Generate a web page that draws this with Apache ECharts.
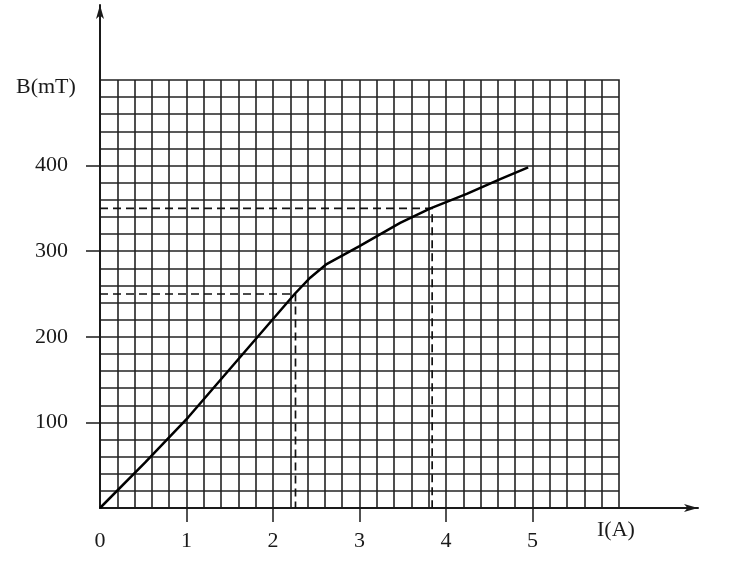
<!DOCTYPE html>
<html>
<head>
<meta charset="utf-8">
<script src="https://cdn.jsdelivr.net/npm/echarts@6/dist/echarts.min.js"></script>
<style>html,body{margin:0;padding:0;background:#fff;}#c{width:750px;height:569px;}</style>
</head>
<body>
<div id="c"></div>
<script>
// Data
var currentA = [0, 0.52, 1.02, 2.25, 2.43, 2.62, 3.0, 3.47, 3.82, 4.24, 4.62, 4.95];
var fieldMT  = [0, 53, 106, 250, 269, 285, 306, 333, 350, 367, 384, 398];
var guide1 = [[0, 250], [2.26, 250], [2.26, 0]];
var guide2 = [[0, 350], [3.84, 350], [3.84, 0]];
var xTickLabels = [0, 1, 2, 3, 4, 5];
var xTicks = [1, 2, 3, 4, 5];
var yTickLabels = [100, 200, 300, 400];
var yName = 'B(mT)';
var xName = 'I(A)';

var curve = currentA.map(function (x, i) { return [x, fieldMT[i]]; });
var font = '"Liberation Serif", "DejaVu Serif", serif';
var ink = '#1a1a1a';
var paper = {color: '#222', width: 1.6};

var chart = echarts.init(document.getElementById('c'), null, {renderer: 'canvas'});
chart.setOption({
  animation: false,
  backgroundColor: '#fff',
  grid: [
    {left: 100, right: 131, top: 80, bottom: 61, show: true, borderColor: '#222', borderWidth: 1.6, containLabel: false},
    {left: 100, right: 52, top: 5, bottom: 61, show: false, containLabel: false}
  ],
  xAxis: [
    {
      type: 'value', gridIndex: 0, min: 0, max: 6, interval: 1,
      axisLine: {show: true, lineStyle: {color: ink, width: 2}},
      axisTick: {show: true, length: 14, customValues: xTicks, lineStyle: {color: ink, width: 1.5}},
      axisLabel: {show: true, customValues: xTickLabels, margin: 22, color: ink, fontFamily: font, fontSize: 22},
      splitLine: {show: true, lineStyle: paper},
      minorTick: {show: false, splitNumber: 5},
      minorSplitLine: {show: true, lineStyle: paper}
    },
    {
      type: 'value', gridIndex: 1, min: 0, max: 1,
      axisLine: {show: true, symbol: ['none', 'arrow'], symbolSize: [6, 14], lineStyle: {color: ink, width: 2}},
      axisTick: {show: false}, axisLabel: {show: false}, splitLine: {show: false}
    }
  ],
  yAxis: [
    {
      type: 'value', gridIndex: 0, min: 0, max: 500, interval: 100,
      axisLine: {show: true, lineStyle: {color: ink, width: 2}},
      axisTick: {show: true, length: 14, customValues: yTickLabels, lineStyle: {color: ink, width: 1.5}},
      axisLabel: {show: true, customValues: yTickLabels, margin: 32, color: ink, fontFamily: font, fontSize: 22},
      splitLine: {show: true, lineStyle: paper},
      minorTick: {show: false, splitNumber: 5},
      minorSplitLine: {show: true, lineStyle: paper}
    },
    {
      type: 'value', gridIndex: 1, min: 0, max: 1,
      axisLine: {show: true, symbol: ['none', 'arrow'], symbolSize: [6, 14], lineStyle: {color: ink, width: 2}},
      axisTick: {show: false}, axisLabel: {show: false}, splitLine: {show: false}
    }
  ],
  graphic: [
    {type: 'text', left: 16, top: 76, style: {text: yName, fontFamily: font, fontSize: 22, fill: ink}},
    {type: 'text', left: 597, top: 519, style: {text: xName, fontFamily: font, fontSize: 22, fill: ink}}
  ],
  series: [
    {
      type: 'line', xAxisIndex: 0, yAxisIndex: 0, data: guide1, symbol: 'none', z: 3,
      lineStyle: {color: '#111', width: 1.7, type: [8, 5]}
    },
    {
      type: 'line', xAxisIndex: 0, yAxisIndex: 0, data: guide2, symbol: 'none', z: 3,
      lineStyle: {color: '#111', width: 1.7, type: [8, 5]}
    },
    {
      type: 'line', xAxisIndex: 0, yAxisIndex: 0, data: curve, symbol: 'none', smooth: false, z: 4,
      lineStyle: {color: '#000', width: 2.5}
    }
  ]
});
</script>
</body>
</html>
